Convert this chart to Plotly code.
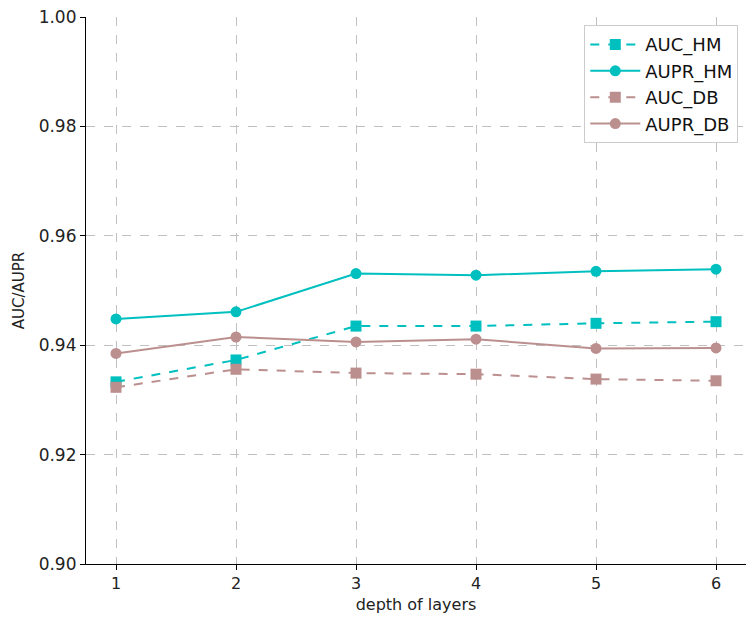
import plotly.graph_objects as go

depth = [1, 2, 3, 4, 5, 6]
auc_hm = [0.9333, 0.9373, 0.9435, 0.9435, 0.9440, 0.9443]
aupr_hm = [0.9448, 0.9461, 0.9531, 0.9528, 0.9535, 0.9539]
auc_db = [0.9323, 0.9356, 0.9349, 0.9347, 0.9338, 0.9335]
aupr_db = [0.9385, 0.9415, 0.9406, 0.9411, 0.9394, 0.9395]

y_ticks = [0.90, 0.92, 0.94, 0.96, 0.98, 1.00]
y_labels = ["0.90", "0.92", "0.94", "0.96", "0.98", "1.00"]

CYAN = "#00bfbf"
ROSY = "#bc8f8f"

fig = go.Figure()
series = [
    ("AUC_HM", auc_hm, CYAN, "dash", "square"),
    ("AUPR_HM", aupr_hm, CYAN, "solid", "circle"),
    ("AUC_DB", auc_db, ROSY, "dash", "square"),
    ("AUPR_DB", aupr_db, ROSY, "solid", "circle"),
]
for name, vals, col, dash, sym in series:
    fig.add_trace(go.Scatter(
        x=depth, y=vals, name=name, mode="lines+markers",
        line=dict(color=col, width=2, dash=dash),
        marker=dict(color=col, size=11, symbol=sym),
    ))

font = "DejaVu Sans, sans-serif"
fig.update_layout(
    width=753, height=623,
    margin=dict(l=86, r=7, t=15, b=59),
    plot_bgcolor="white", paper_bgcolor="white",
    font=dict(family=font, size=16, color="#222"),
    legend=dict(
        x=0.755, y=0.985, xanchor="left", yanchor="top",
        bgcolor="white", bordercolor="#cccccc", borderwidth=1,
        font=dict(size=18, color="#111"),
        tracegroupgap=0, itemwidth=50,
    ),
    showlegend=True,
)
fig.update_xaxes(
    range=[0.75, 6.25], tickvals=depth, ticktext=[str(d) for d in depth],
    showline=True, linecolor="black", linewidth=1.2,
    ticks="outside", ticklen=5, tickcolor="black",
    showgrid=True, gridcolor="#c0c0c0", griddash="dash", gridwidth=1,
    zeroline=False,
    title=dict(text="depth of layers", font=dict(size=16), standoff=6),
    tickfont=dict(size=16),
)
fig.update_yaxes(
    range=[0.90, 1.00], tickvals=y_ticks, ticktext=y_labels,
    showline=True, linecolor="black", linewidth=1.2,
    ticks="outside", ticklen=5, tickcolor="black",
    showgrid=True, gridcolor="#c0c0c0", griddash="dash", gridwidth=1,
    zeroline=False,
    title=dict(text="AUC/AUPR", font=dict(size=15), standoff=10),
    tickfont=dict(size=17),
)

fig.write_html("out.html")
